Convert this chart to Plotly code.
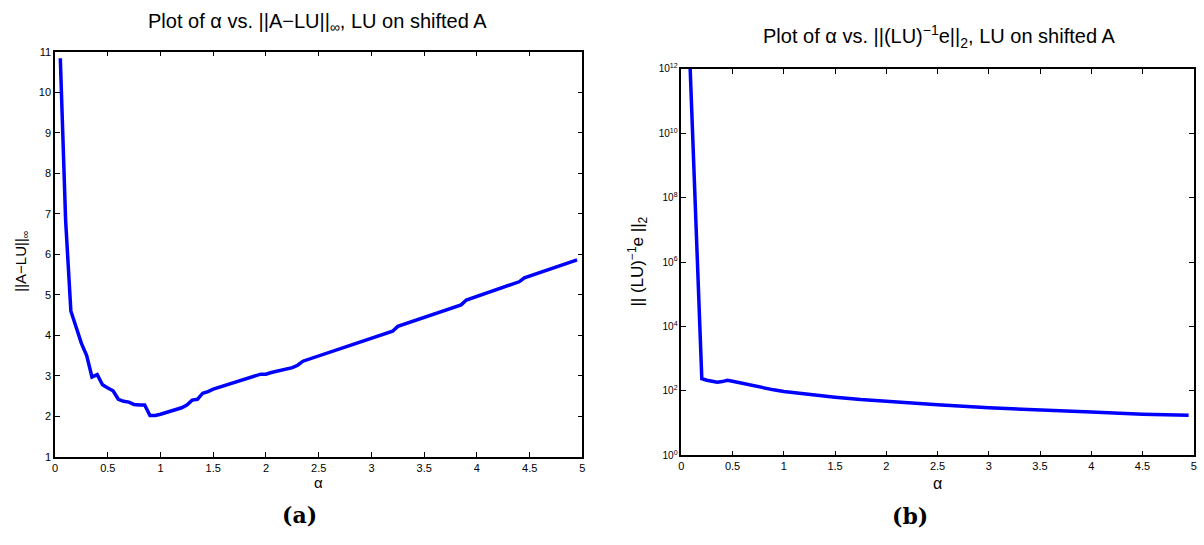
import plotly.graph_objects as go

# Left panel: alpha vs ||A-LU||_inf
alpha_a = [0.05, 0.10, 0.15, 0.20, 0.25, 0.30, 0.35, 0.40, 0.45, 0.50, 0.55, 0.60, 0.65, 0.70,
           0.75, 0.80, 0.85, 0.90, 0.95, 1.00, 1.05, 1.10, 1.15, 1.20, 1.25, 1.30, 1.35, 1.40,
           1.45, 1.50, 1.95, 2.00, 2.05, 2.10, 2.20, 2.25, 2.30, 2.35, 3.20, 3.25, 3.85, 3.90,
           4.40, 4.45, 4.95]
err_a = [10.84, 6.85, 4.60, 4.20, 3.80, 3.50, 2.97, 3.03, 2.78, 2.70, 2.63, 2.42, 2.37, 2.35,
         2.29, 2.28, 2.28, 2.02, 2.02, 2.05, 2.09, 2.15, 2.18, 2.21, 2.28, 2.40, 2.42, 2.57,
         2.61, 2.67, 3.04, 3.04, 3.08, 3.11, 3.16, 3.20, 3.26, 3.36, 4.10, 4.22, 4.75, 4.87,
         5.32, 5.42, 5.86]

# Right panel: alpha vs ||(LU)^-1 e||_2
alpha_b = [0.05, 0.10, 0.15, 0.20, 0.25, 0.30, 0.35, 0.40, 0.45, 0.50, 0.60, 0.70, 0.80, 0.90,
           1.00, 1.25, 1.50, 1.75, 2.00, 2.50, 3.00, 3.50, 4.00, 4.50, 4.95]
norm_b = [1.26e15, 8e10, 4.5e6, 240, 215, 200, 186, 195, 213, 200, 170, 145, 125, 108,
          96, 77, 64, 54, 47, 37, 30, 25, 22, 19, 17.5]

x_ticks = [0, 0.5, 1, 1.5, 2, 2.5, 3, 3.5, 4, 4.5, 5]
x_tick_text = ["0", "0.5", "1", "1.5", "2", "2.5", "3", "3.5", "4", "4.5", "5"]
ya_ticks = list(range(1, 12))
yb_ticks = [1, 1e2, 1e4, 1e6, 1e8, 1e10, 1e12]
yb_tick_text = ["10<sup>0</sup>", "10<sup>2</sup>", "10<sup>4</sup>", "10<sup>6</sup>",
                "10<sup>8</sup>", "10<sup>10</sup>", "10<sup>12</sup>"]

W, H = 1204, 545
BLUE = "#0000FF"
FONT = "Liberation Sans, Arial, sans-serif"

fig = go.Figure()
fig.add_trace(go.Scatter(x=alpha_a, y=err_a, mode="lines",
                         line=dict(color=BLUE, width=3.5), xaxis="x", yaxis="y",
                         showlegend=False))
fig.add_trace(go.Scatter(x=alpha_b, y=norm_b, mode="lines",
                         line=dict(color=BLUE, width=3.5), xaxis="x2", yaxis="y2",
                         showlegend=False))

def px_x(p):
    return p / W

def px_y(p):
    return 1 - p / H

axis_common = dict(showline=True, linecolor="black", linewidth=1.5, mirror="ticks",
                   ticks="inside", ticklen=5, tickcolor="black", tickwidth=1,
                   showgrid=False, zeroline=False,
                   tickfont=dict(family=FONT, size=11, color="black"))

fig.update_layout(
    width=W, height=H,
    margin=dict(l=0, r=0, t=0, b=0),
    paper_bgcolor="white", plot_bgcolor="white",
    xaxis=dict(domain=[px_x(52.3), px_x(582.3)], range=[0, 5], anchor="y",
               tickvals=x_ticks, ticktext=x_tick_text, **axis_common),
    yaxis=dict(domain=[px_y(460.8), px_y(45.8)], range=[1, 11], anchor="x",
               tickvals=ya_ticks, **axis_common),
    xaxis2=dict(domain=[px_x(681.7), px_x(1196.7)], range=[0, 5], anchor="y2",
                tickvals=x_ticks, ticktext=x_tick_text, **axis_common),
    yaxis2=dict(domain=[px_y(459.3), px_y(63.3)], type="log", range=[0, 12], anchor="x2",
                tickvals=yb_ticks, ticktext=yb_tick_text,
                **{**axis_common, "tickfont": dict(family=FONT, size=10, color="black")}),
)

def ann(text, x, y, size, family=FONT, angle=0, bold=False):
    if bold:
        text = "<b>" + text + "</b>"
    fig.add_annotation(text=text, xref="paper", yref="paper", x=px_x(x), y=px_y(y),
                       showarrow=False, xanchor="center", yanchor="middle",
                       textangle=angle, font=dict(family=family, size=size, color="black"))

ann("Plot of α vs. ||A−LU||<sub>∞</sub>, LU on shifted A", 316, 16, 20)
ann("Plot of α vs. ||(LU)<sup>−1</sup>e||<sub>2</sub>, LU on shifted A", 941, 30, 20)
ann("||A−LU||<sub>∞</sub>", 19, 260, 15, angle=-90)
ann("|| (LU)<sup>−1</sup>e ||<sub>2</sub>", 638, 261, 17, angle=-90)
ann("α", 317, 487, 15)
ann("α", 939, 488, 16)
ann("(a)", 298, 520, 22, family="DejaVu Serif, serif", bold=True)
ann("(b)", 912, 521, 22, family="DejaVu Serif, serif", bold=True)

fig.write_html("out.html")
